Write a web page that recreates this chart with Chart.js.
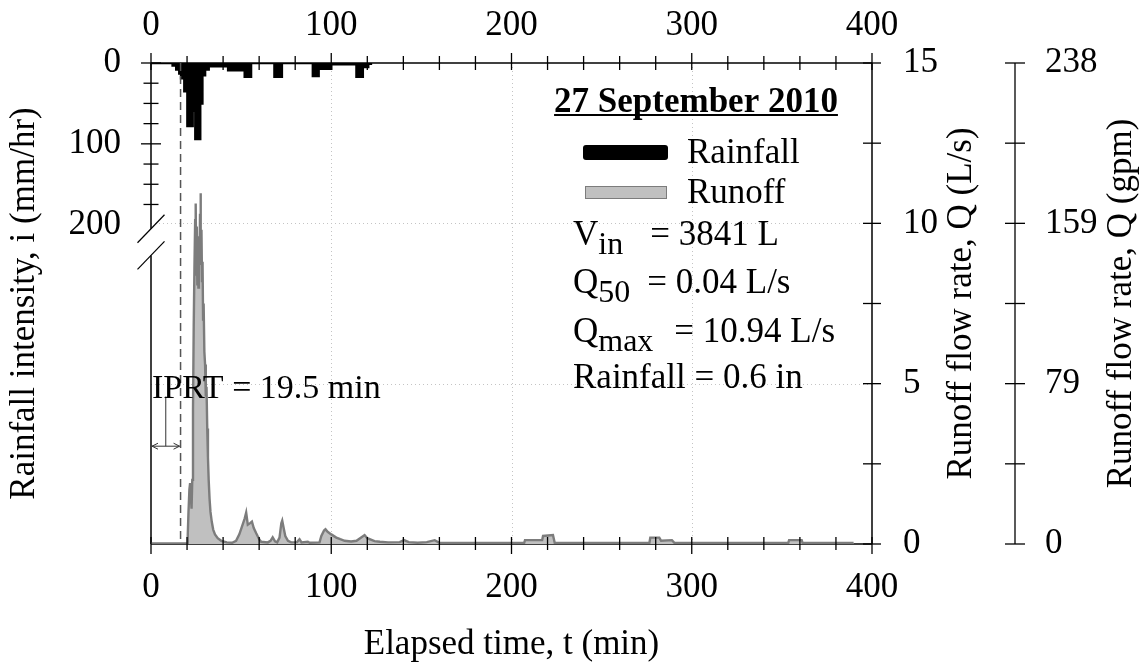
<!DOCTYPE html>
<html>
<head>
<meta charset="utf-8">
<script src="https://cdn.jsdelivr.net/npm/chart.js@4.4.1/dist/chart.umd.min.js"></script>
<style>
  html, body { margin: 0; padding: 0; background: #fff; }
  canvas { display: block; }
</style>
</head>
<body>
<canvas id="grafico" width="1141" height="667"></canvas>
<script>
// chuva (mm/hr), degraus: cada valor vale a partir do seu tempo
const chuvaTempo = [0, 12, 14, 15.7, 16.7, 18.5, 20.2, 23.1, 24.6, 27.3, 28.5, 30, 32, 42.8, 52, 55.5, 68.5, 72.6, 89.8, 93, 100, 114, 117.5, 120.5, 122];
const chuvaInt   = [0, 3, 8, 13, 19, 35, 78, 59, 94, 50, 15, 8, 4, 9, 17, 0, 17, 0, 16, 7, 1.5, 17, 5, 1, 0];

// escoamento (L/s)
const vazaoTempo = [0, 20, 20.4, 20.8, 21.3, 21.7, 22.1, 22.5, 22.9, 23.3, 23.7, 24.1, 24.5, 24.8, 25.1, 25.4, 25.7, 26.0, 26.3, 26.6, 26.9, 27.2, 27.45, 27.7, 28.0, 28.3, 28.6, 28.9, 29.2, 29.6, 30.0, 30.4, 30.8, 31.2, 31.6, 32.0, 32.5, 33.0, 33.7, 34.5, 35.5, 37, 39, 42, 45, 47.2, 49, 50.5, 52, 52.8, 53.7, 55, 56, 57, 58.3, 60, 61.1, 64.8, 66.3, 67.5, 68.8, 70, 71.3, 72.3, 72.8, 73.6, 74.5, 76, 77.8, 81, 82.4, 83.5, 87, 88, 93.5, 94.5, 96, 96.8, 98, 100, 102.8, 105, 107.4, 111, 114, 117, 118.5, 120, 124, 127, 131.5, 138, 140.4, 143, 148, 153, 157.4, 160, 207, 207.5, 217, 217.5, 223, 224, 276.5, 277, 282, 283, 289, 290.5, 353.5, 354, 361, 361.5, 389.8];
const vazao      = [0.02, 0.02, 0.3, 1.0, 1.7, 1.9, 1.5, 1.1, 2.0, 4.2, 6.8, 8.6, 10.1, 10.62, 8.4, 9.9, 8.1, 9.3, 8.0, 9.6, 8.7, 10.3, 10.94, 9.2, 9.8, 8.2, 8.8, 7.0, 7.5, 6.0, 5.6, 4.6, 4.9, 3.6, 2.7, 2.0, 1.4, 1.0, 0.7, 0.45, 0.3, 0.18, 0.1, 0.05, 0.04, 0.1, 0.3, 0.55, 0.8, 0.98, 0.6, 0.65, 0.7, 0.5, 0.34, 0.15, 0.07, 0.05, 0.1, 0.21, 0.08, 0.05, 0.2, 0.65, 0.73, 0.5, 0.25, 0.1, 0.05, 0.06, 0.15, 0.05, 0.07, 0.04, 0.05, 0.25, 0.42, 0.46, 0.38, 0.3, 0.2, 0.15, 0.1, 0.08, 0.1, 0.22, 0.28, 0.18, 0.09, 0.07, 0.05, 0.06, 0.12, 0.06, 0.04, 0.06, 0.12, 0.04, 0.03, 0.12, 0.12, 0.25, 0.28, 0.03, 0.03, 0.2, 0.2, 0.1, 0.12, 0.03, 0.03, 0.12, 0.12, 0.03, 0.03];

// eixos
const tempoTicks = [0, 100, 200, 300, 400];
const chuvaTicks = [0, 100, 200];
const vazaoTicks = [0, 5, 10, 15];
const gradeTempo = [100, 200, 300];
const gradeVazao = [5, 10];
const LPS_GPM = 15.85;
const QUEBRA = [205, 238];      // corte do eixo de chuva
const IPRT_INICIO = 16.4;       // linha tracejada (min)

const FONTE = s => s + "px 'Liberation Serif', 'Times New Roman', serif";
Chart.defaults.font.family = "'Liberation Serif', 'Times New Roman', serif";
Chart.defaults.color = '#000';

function seg(ctx, x1, y1, x2, y2) {
  ctx.beginPath(); ctx.moveTo(x1, y1); ctx.lineTo(x2, y2); ctx.stroke();
}

function seta(ctx, x, y, dir) {
  ctx.beginPath();
  ctx.moveTo(x + dir * 6, y - 3); ctx.lineTo(x, y); ctx.lineTo(x + dir * 6, y + 3);
  ctx.stroke();
}

function textoSub(ctx, x, y, base, sub, resto, folga) {
  ctx.font = FONTE(35); ctx.fillText(base, x, y); x += ctx.measureText(base).width;
  ctx.font = FONTE(32); ctx.fillText(sub, x, y + 9); x += ctx.measureText(sub).width;
  ctx.font = FONTE(35); ctx.fillText(resto, x + folga, y);
}

const semGrade = { display: false, drawTicks: false };

const decoracao = {
  id: 'decoracao',
  beforeDatasetsDraw(chart) {
    const { ctx, chartArea: a, scales: { x, q, chuva } } = chart;
    ctx.save();
    ctx.lineWidth = 1; ctx.strokeStyle = '#c4c4c4'; ctx.setLineDash([1, 3]);
    gradeTempo.forEach(t => { const px = Math.round(x.getPixelForValue(t)) + 0.5; seg(ctx, px, a.top, px, a.bottom); });
    gradeVazao.forEach(v => { const py = Math.round(q.getPixelForValue(v)) + 0.5; seg(ctx, a.left, py, a.right, py); });
    ctx.setLineDash([]);
    ctx.strokeStyle = '#000'; ctx.lineWidth = 1.5;
    seg(ctx, a.left, a.top, a.right, a.top);
    seg(ctx, a.left, a.bottom, a.right, a.bottom);
    seg(ctx, a.right, a.top, a.right, a.bottom);
    seg(ctx, a.left, a.top, a.left, chuva.getPixelForValue(QUEBRA[0]));
    seg(ctx, a.left, chuva.getPixelForValue(QUEBRA[1]), a.left, a.bottom);
    ctx.restore();
  },
  afterDatasetsDraw(chart) {
    const { ctx, chartArea: a, scales: { x, q, chuva, gpm } } = chart;
    ctx.save();
    ctx.strokeStyle = '#000'; ctx.lineWidth = 1.3;
    // marcas do tempo, embaixo e em cima
    for (let t = 0; t <= 400; t += 20) {
      const px = x.getPixelForValue(t), maior = t % 100 === 0;
      seg(ctx, px, a.bottom - 7, px, a.bottom + (maior ? 10 : 6));
      seg(ctx, px, a.top - (maior ? 10 : 7), px, a.top + 7);
    }
    // chuva, so ate o corte
    for (let v = 0; v < 200; v += 25) {
      const py = chuva.getPixelForValue(v), d = v % 100 === 0 ? 10 : 7.5;
      seg(ctx, a.left - d, py, a.left + d, py);
    }
    // vazao e gpm
    seg(ctx, gpm.left, a.top, gpm.left, a.bottom);
    for (let v = 0; v <= 15; v += 2.5) {
      const py = q.getPixelForValue(v);
      seg(ctx, a.right - 9, py, a.right + 9, py);
      seg(ctx, gpm.left - 10, py, gpm.left + 10, py);
    }
    // corte do eixo
    ctx.lineWidth = 1.2;
    QUEBRA.forEach(v => {
      const py = chuva.getPixelForValue(v);
      seg(ctx, a.left - 13.5, py + 14, a.left + 13.5, py - 14);
    });
    // IPRT
    const xi = x.getPixelForValue(IPRT_INICIO);
    ctx.strokeStyle = '#555'; ctx.lineWidth = 1.5; ctx.setLineDash([8, 5]);
    seg(ctx, xi, a.top, xi, a.bottom);
    ctx.setLineDash([]);
    ctx.strokeStyle = '#333'; ctx.lineWidth = 1;
    const ya = q.getPixelForValue(3.05), yt = q.getPixelForValue(4.6);
    seg(ctx, a.left + 1, ya, xi - 1, ya);
    seta(ctx, a.left + 1, ya, 1);
    seta(ctx, xi - 1, ya, -1);
    const xm = x.getPixelForValue(IPRT_INICIO / 2);
    seg(ctx, xm, yt, xm, ya);
    ctx.fillStyle = '#000'; ctx.font = FONTE(34);
    ctx.textAlign = 'left'; ctx.textBaseline = 'alphabetic';
    ctx.fillText('IPRT = 19.5 min', a.left + 1, q.getPixelForValue(4.55));
    ctx.restore();
  },
  afterDraw(chart) {
    const { ctx, chartArea: a, scales, data } = chart;
    ctx.save();
    ctx.fillStyle = '#000'; ctx.textBaseline = 'alphabetic';
    // titulo
    const titulo = '27 September 2010';
    ctx.font = 'bold ' + FONTE(35); ctx.textAlign = 'center';
    const cx = 696, wt = ctx.measureText(titulo).width;
    ctx.fillText(titulo, cx, a.top + 49);
    ctx.fillRect(cx - wt / 2, a.top + 51, wt, 2);
    // legenda
    const [chuvaDs, vazaoDs] = [data.datasets[1], data.datasets[0]];
    ctx.fillStyle = chuvaDs.backgroundColor;
    ctx.beginPath(); ctx.roundRect(583, a.top + 82, 85, 15, 3); ctx.fill();
    ctx.fillStyle = vazaoDs.backgroundColor; ctx.strokeStyle = vazaoDs.borderColor; ctx.lineWidth = 1;
    ctx.fillRect(585, a.top + 123, 82, 13); ctx.strokeRect(585.5, a.top + 123.5, 81, 12);
    ctx.fillStyle = '#000'; ctx.textAlign = 'left'; ctx.font = FONTE(35);
    ctx.fillText(chuvaDs.label, 687, a.top + 100);
    ctx.fillText(vazaoDs.label, 687, a.top + 140);
    // resumo do evento
    const xt = 573;
    textoSub(ctx, xt, a.top + 182, 'V', 'in', '= 3841 L', 27);
    textoSub(ctx, xt, a.top + 230, 'Q', '50', '= 0.04 L/s', 17);
    textoSub(ctx, xt, a.top + 279, 'Q', 'max', '= 10.94 L/s', 21);
    ctx.font = FONTE(35);
    ctx.fillText('Rainfall = 0.6 in', xt, a.top + 325);
    // titulos dos eixos da direita
    [['q', 53], ['gpm', 19]].forEach(([id, d]) => {
      const s = scales[id];
      ctx.save();
      ctx.translate(s.right - d, (s.top + s.bottom) / 2);
      ctx.rotate(-Math.PI / 2);
      ctx.textAlign = 'center'; ctx.textBaseline = 'middle'; ctx.font = FONTE(35);
      ctx.fillText(s.options.title.text, 0, 0);
      ctx.restore();
    });
    ctx.restore();
  }
};

const ctx = document.getElementById('grafico').getContext('2d');
new Chart(ctx, {
  type: 'line',
  data: {
    datasets: [
      {
        label: 'Runoff',
        data: vazaoTempo.map((t, i) => ({ x: t, y: vazao[i] })),
        xAxisID: 'x', yAxisID: 'q',
        borderColor: '#7c7c7c', backgroundColor: '#c0c0c0',
        borderWidth: 2.4, fill: 'origin', pointRadius: 0, tension: 0
      },
      {
        label: 'Rainfall',
        data: chuvaTempo.map((t, i) => ({ x: t, y: chuvaInt[i] })),
        xAxisID: 'x', yAxisID: 'chuva',
        borderColor: '#000', backgroundColor: '#000',
        borderWidth: 2.5, fill: 'origin', stepped: true, pointRadius: 0
      }
    ]
  },
  options: {
    responsive: false,
    animation: false,
    devicePixelRatio: 1,
    layout: { padding: 0 },
    plugins: { legend: { display: false }, tooltip: { enabled: false } },
    scales: {
      x: {
        type: 'linear', position: 'bottom', min: 0, max: 400,
        afterBuildTicks: s => { s.ticks = tempoTicks.map(v => ({ value: v })); },
        afterFit: s => { s.height = 123; },
        grid: semGrade, border: { display: false },
        ticks: { font: { size: 35 }, padding: 23, maxRotation: 0 },
        title: { display: true, text: 'Elapsed time, t (min)', font: { size: 35 }, padding: { top: 0, bottom: 1 } }
      },
      xTopo: {
        type: 'linear', axis: 'x', position: 'top', min: 0, max: 400,
        afterBuildTicks: s => { s.ticks = tempoTicks.map(v => ({ value: v })); },
        afterFit: s => { s.height = 63; },
        grid: semGrade, border: { display: false },
        ticks: { font: { size: 35 }, padding: 16, maxRotation: 0 }
      },
      chuva: {
        type: 'linear', position: 'left', reverse: true, min: 0, max: 595,
        afterBuildTicks: s => { s.ticks = chuvaTicks.map(v => ({ value: v })); },
        afterFit: s => { s.width = 151; },
        grid: semGrade, border: { display: false },
        ticks: { font: { size: 35 }, padding: 30 },
        title: { display: true, text: 'Rainfall intensity, i (mm/hr)', font: { size: 35 }, padding: { top: 4, bottom: 0 } }
      },
      q: {
        type: 'linear', position: 'right', weight: 0, min: 0, max: 15,
        afterBuildTicks: s => { s.ticks = vazaoTicks.map(v => ({ value: v })); },
        afterFit: s => { s.width = 143; },
        grid: semGrade, border: { display: false },
        ticks: { font: { size: 35 }, padding: 31 },
        title: { display: false, text: 'Runoff flow rate, Q (L/s)' }
      },
      gpm: {
        type: 'linear', position: 'right', weight: 1, min: 0, max: 15 * LPS_GPM,
        afterBuildTicks: s => { s.ticks = vazaoTicks.map(v => ({ value: v * LPS_GPM })); },
        afterFit: s => { s.width = 126; },
        grid: semGrade, border: { display: false },
        ticks: { font: { size: 35 }, padding: 30, callback: v => Math.round(v) },
        title: { display: false, text: 'Runoff flow rate, Q (gpm)' }
      }
    }
  },
  plugins: [decoracao]
});
</script>
</body>
</html>
